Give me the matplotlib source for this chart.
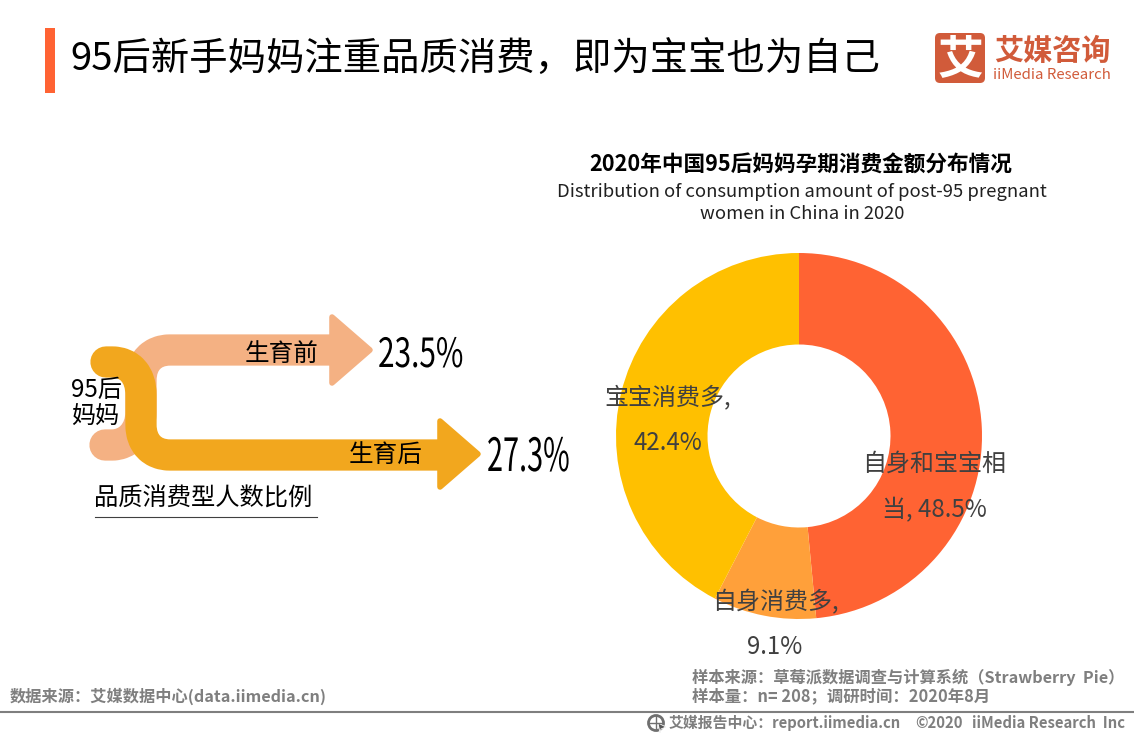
import matplotlib
matplotlib.use('Agg')
import matplotlib.pyplot as plt
from matplotlib.patches import PathPatch, Polygon, FancyBboxPatch, Circle, Rectangle
from matplotlib.patheffects import AbstractPathEffect
from matplotlib.path import Path
from matplotlib.transforms import Affine2D

plt.rcParams['font.family'] = ['Noto Sans CJK SC', 'DejaVu Sans']

# donut data
shares = [48.5, 9.1, 42.4]
share_names = ['自身和宝宝相\n当', '自身消费多,', '宝宝消费多,']
share_colors = ['#FF6333', '#FFA03A', '#FFC000']

# flow arrows
flow_labels = ['生育前', '生育后']
flow_values = ['23.5%', '27.3%']


class Squeeze(AbstractPathEffect):
    # no condensed font installed, so narrow the glyphs of the big percentages
    def __init__(self, sx):
        super().__init__()
        self.sx = sx

    def draw_path(self, renderer, gc, tpath, affine, rgbFace=None):
        renderer.draw_path(gc, tpath, Affine2D().scale(self.sx, 1) + affine, rgbFace)


W, H = 1134, 737
fig = plt.figure(figsize=(W / 100, H / 100), dpi=100)

# pixel axes for the decoration, y runs downwards like the picture
bg = fig.add_axes([0, 0, 1, 1])
bg.set_xlim(0, W)
bg.set_ylim(H, 0)
bg.axis('off')

# header
bg.add_patch(Rectangle((45, 28), 10, 65, color='#FF6333', lw=0))
bg.text(70, 60, '95后新手妈妈注重品质消费，即为宝宝也为自己', fontsize=27.6, color='black', va='center', ha='left')

# logo
logo_red = '#D15B3A'
bg.add_patch(FancyBboxPatch((939, 37), 42, 42, boxstyle='round,pad=4,rounding_size=5', fc=logo_red, ec='none'))
bg.text(960, 60, '艾', fontsize=33, color='white', ha='center', va='center', fontweight='bold')
bg.text(1052, 51, '艾媒咨询', fontsize=21, color=logo_red, ha='center', va='center', fontweight='bold')
bg.text(1052, 75, 'iiMedia Research', fontsize=10.8, color=logo_red, ha='center', va='center', fontweight='medium')


def flow(verts, codes, head_x, head_y, color, z):
    bg.add_patch(PathPatch(Path(verts, codes), fc='none', ec=color, lw=22.5, capstyle='round', joinstyle='round', zorder=z))
    bg.add_patch(Polygon([(head_x + 1, head_y - 33), (head_x + 39, head_y), (head_x + 1, head_y + 33)], closed=True,
                         fc=color, ec=color, lw=4, joinstyle='round', zorder=z))


M, L, C = Path.MOVETO, Path.LINETO, Path.CURVE4
flow([(105, 445), (112, 445), (128, 445), (141, 432), (141, 412), (141, 380), (141, 362), (152, 350), (170, 350), (331, 350)],
     [M, L, C, C, C, L, C, C, C, L], 331, 350, '#F4B183', 2)
flow([(106, 362), (112, 362), (130, 362), (141, 375), (141, 395), (141, 425), (141, 443), (152, 455), (170, 455), (439, 455)],
     [M, L, C, C, C, L, C, C, C, L], 439, 454, '#F2A71E', 3)

bg.text(96, 390, '95后', fontsize=17.4, ha='center', va='center', zorder=5)
bg.text(95, 417, '妈妈', fontsize=17.4, ha='center', va='center', zorder=5)
bg.text(282, 354, flow_labels[0], fontsize=17.7, ha='center', va='center', zorder=5)
bg.text(386, 455, flow_labels[1], fontsize=17.7, ha='center', va='center', zorder=5)
bg.text(378, 367, flow_values[0], fontsize=29, ha='left', va='baseline', path_effects=[Squeeze(0.74)])
bg.text(487, 471, flow_values[1], fontsize=33, ha='left', va='baseline', path_effects=[Squeeze(0.63)])
bg.text(203, 499, '品质消费型人数比例', fontsize=17.5, ha='center', va='center')
bg.plot([95, 317], [517, 517], color='#404040', lw=0.8)

# chart title
bg.text(801, 164, '2020年中国95后妈妈孕期消费金额分布情况', fontsize=15.6, fontweight='bold', ha='center', va='center')
bg.text(802, 192, 'Distribution of consumption amount of post-95 pregnant', fontsize=13.3, ha='center', va='center', color='#202020')
bg.text(802, 214, 'women in China in 2020', fontsize=13.3, ha='center', va='center', color='#202020')

# donut, axes box is placed so the circle sits at (799, 436) with r=183
box = 183 * 2
ax = fig.add_axes([(799 - 183) / W, 1 - (436 + 183) / H, box / W, box / H])
ax.pie(shares, colors=share_colors, startangle=90, counterclock=False, radius=1,
       wedgeprops={'width': 0.5, 'linewidth': 0})
ax.set_xlim(-1, 1)
ax.set_ylim(-1, 1)
ax.axis('off')

# labels go on an overlay so they can spill over the donut edge
top = fig.add_axes([0, 0, 1, 1], facecolor='none')
top.set_xlim(0, W)
top.set_ylim(H, 0)
top.axis('off')
label_color = '#404040'
top.text(934, 464, '自身和宝宝相', fontsize=17.3, color=label_color, ha='center', va='center')
top.text(934, 510, f'当, {shares[0]}%', fontsize=17.3, color=label_color, ha='center', va='center')
top.text(775, 602, share_names[1], fontsize=17.3, color=label_color, ha='center', va='center')
top.text(775, 647, f'{shares[1]}%', fontsize=17.3, color=label_color, ha='center', va='center')
top.text(668, 397, share_names[2], fontsize=17.3, color=label_color, ha='center', va='center')
top.text(668, 443, f'{shares[2]}%', fontsize=17.3, color=label_color, ha='center', va='center')

# footer
foot = '#7F7F7F'
top.text(10, 696, '数据来源：艾媒数据中心(data.iimedia.cn)', fontsize=11.7, fontweight='bold', color=foot, va='center')
top.text(692, 677, '样本来源：草莓派数据调查与计算系统（Strawberry  Pie）', fontsize=11.7, fontweight='bold', color=foot, va='center')
top.text(692, 696, '样本量：n= 208；调研时间：2020年8月', fontsize=11.8, fontweight='bold', color=foot, va='center')
top.plot([0, W], [712, 712], color='#7F7F7F', lw=1.5)
top.add_patch(Circle((656, 723), 7.5, fc='none', ec='#6F6F6F', lw=2))
top.plot([649, 663], [723, 723], color='#6F6F6F', lw=1)
top.plot([656, 656], [716, 730], color='#6F6F6F', lw=1)
top.add_patch(Polygon([(658, 723), (666, 727), (661, 729), (660, 733)], closed=True, fc='#555555', ec='white', lw=0.6))
top.text(669, 723, '艾媒报告中心：report.iimedia.cn', fontsize=10.7, fontweight='bold', color=foot, va='center')
top.text(915, 723, '©2020', fontsize=10.7, fontweight='bold', color=foot, va='center')
top.text(972, 723, 'iiMedia Research  Inc', fontsize=10.7, fontweight='bold', color=foot, va='center')

fig.savefig('out.png', dpi=100)
